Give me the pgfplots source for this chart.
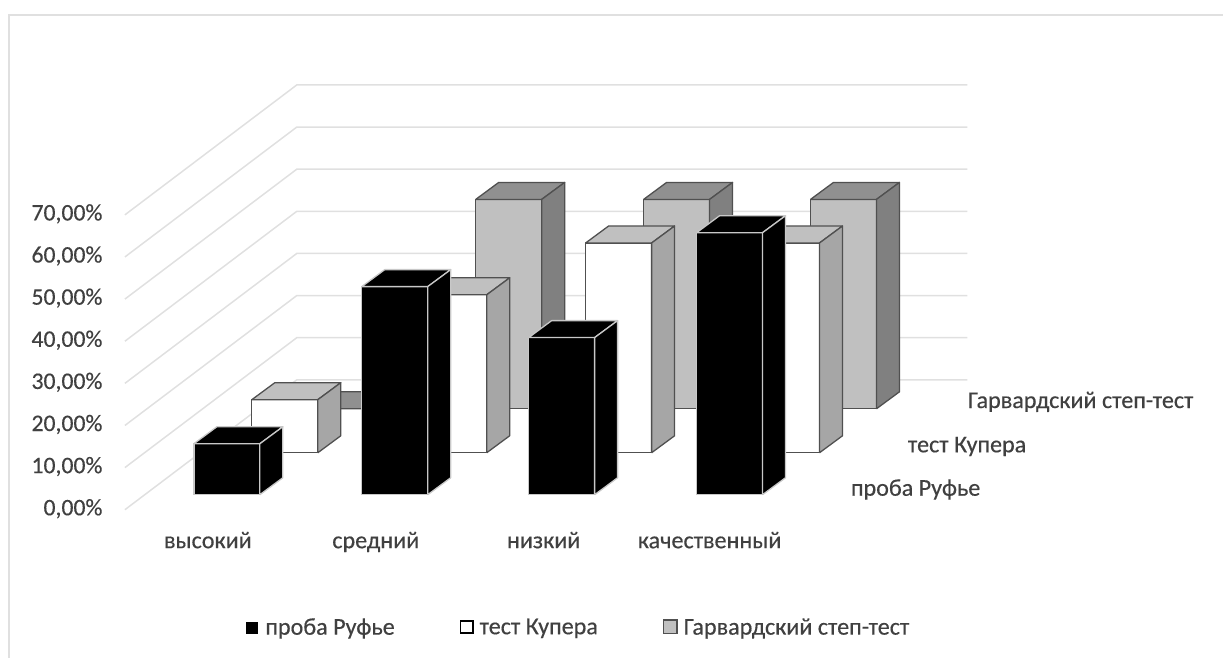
\documentclass[border=0pt]{standalone}
\usepackage{pgfplots}
\pgfplotsset{compat=1.18}
\usepackage{fontspec}
\setmainfont[FakeBold=0.4]{Carlito}
\definecolor{txt}{HTML}{404040}
\definecolor{gridc}{HTML}{E0E0E0}
\definecolor{edgeD}{HTML}{505050}
\definecolor{edgeL}{HTML}{C8C8C8}
\definecolor{grF}{HTML}{C0C0C0}
\definecolor{grT}{HTML}{909090}
\definecolor{grS}{HTML}{808080}
\definecolor{whT}{HTML}{C0C0C0}
\definecolor{whS}{HTML}{A6A6A6}
\newcommand{\lblfont}{\fontsize{24.2}{26}\selectfont}

% Oblique bar: left edge, floor level of its row, value, then face and edge colours.
% Horizontal unit is the pixel; vertical unit is the percentage point.
\newcommand{\obar}[7]{%
  \pgfmathsetmacro{\xa}{#1}%
  \pgfmathsetmacro{\xb}{#1+66}%
  \pgfmathsetmacro{\xc}{#1+89}%
  \pgfmathsetmacro{\xd}{#1+23}%
  \pgfmathsetmacro{\yb}{#2}%
  \pgfmathsetmacro{\yt}{#2+#3}%
  \pgfmathsetmacro{\ybb}{#2+4.03}%
  \pgfmathsetmacro{\ytt}{#2+#3+4.03}%
  \edef\doplot{%
    \noexpand\addplot[forget plot,fill=#4,draw=#7,line width=1.3pt,line join=round]
      coordinates {(\xa,\yb)(\xb,\yb)(\xb,\yt)(\xa,\yt)(\xa,\yb)};
    \noexpand\addplot[forget plot,fill=#5,draw=#7,line width=1.3pt,line join=round]
      coordinates {(\xa,\yt)(\xb,\yt)(\xc,\ytt)(\xd,\ytt)(\xa,\yt)};
    \noexpand\addplot[forget plot,fill=#6,draw=#7,line width=1.3pt,line join=round]
      coordinates {(\xb,\yb)(\xc,\ybb)(\xc,\ytt)(\xb,\yt)(\xb,\yb)};
  }\doplot
}

\begin{document}
\begin{tikzpicture}[x=1bp,y=1bp]
\begin{axis}[
  scale only axis,
  width=1224bp, height=658bp,
  xmin=0, xmax=1224,
  ymin=-35.11, ymax=121.0,
  clip=false,
  axis line style={draw=none},
  tick style={draw=none},
  ytick={0,10,20,30,40,50,60,70},
  yticklabels={{0,00\%},{10,00\%},{20,00\%},{30,00\%},{40,00\%},{50,00\%},{60,00\%},{70,00\%}},
  y tick label style={anchor=east, xshift=106bp, yshift=1bp, font=\fontsize{23.8}{26}\selectfont, text=txt},
  xtick={208,376,544,710},
  xticklabels={высокий,средний,низкий,качественный},
  x tick label style={anchor=center, text height=11bp, text depth=4bp, yshift=113bp, font=\lblfont, text=txt},
  legend style={at={(axis cs:243,-27.9)}, anchor=west, draw=none, fill=none,
    legend columns=3, font=\lblfont\color{txt},
    /tikz/every even column/.style={column sep=63bp}},
]
% chart frame
\addplot[forget plot,gridc,line width=1.5pt] coordinates {(9,-35.11)(9,117.4)(1224,117.4)};

% floor-to-back gridlines for each ten per cent
\pgfplotsinvokeforeach{0,10,20,30,40,50,60,70}{%
  \pgfmathsetmacro{\ygb}{#1+30.84}%
  \edef\doplot{\noexpand\addplot[forget plot,gridc,line width=1.5pt]
    coordinates {(125,#1)(297,\ygb)(968,\ygb)};}\doplot
}

% Гарвардский степ-тест (back row)
\obar{309}{23.96}{0.0}{grF}{grT}{grS}{edgeD}
\obar{476}{23.96}{49.7}{grF}{grT}{grS}{edgeD}
\obar{644}{23.96}{49.7}{grF}{grT}{grS}{edgeD}
\obar{811}{23.96}{49.7}{grF}{grT}{grS}{edgeD}
% тест Купера (middle row)
\obar{252}{13.52}{12.6}{white}{whT}{whS}{edgeD}
\obar{421}{13.52}{37.5}{white}{whT}{whS}{edgeD}
\obar{586}{13.52}{49.8}{white}{whT}{whS}{edgeD}
\obar{754}{13.52}{49.8}{white}{whT}{whS}{edgeD}
% проба Руфье (front row)
\obar{194}{3.56}{12.1}{black}{black}{black}{edgeL}
\obar{362}{3.56}{49.4}{black}{black}{black}{edgeL}
\obar{529}{3.56}{37.3}{black}{black}{black}{edgeL}
\obar{697}{3.56}{62.2}{black}{black}{black}{edgeL}

% series names along the depth direction
\node[anchor=west,font=\lblfont,text=txt] at (axis cs:848,4.8) {проба Руфье};
\node[anchor=west,font=\lblfont,text=txt] at (axis cs:905,15.0) {тест Купера};
\node[anchor=west,font=\lblfont,text=txt] at (axis cs:965,25.6) {Гарвардский степ-тест};

\addlegendimage{legend image code/.code={\fill[black] (2bp,-5.5bp) rectangle (13bp,5.5bp);}}
\addlegendentry{\hspace{6bp}проба Руфье}
\addlegendimage{legend image code/.code={\draw[fill=white,draw=black,line width=1.5pt] (0.5bp,-6bp) rectangle (13bp,6bp);}}
\addlegendentry{\hspace{4bp}тест Купера}
\addlegendimage{legend image code/.code={\draw[fill=grF,draw=edgeD,line width=1.5pt] (0.5bp,-6.5bp) rectangle (14bp,7bp);}}
\addlegendentry{\hspace{4bp}Гарвардский степ-тест}
\end{axis}
\end{tikzpicture}
\end{document}
